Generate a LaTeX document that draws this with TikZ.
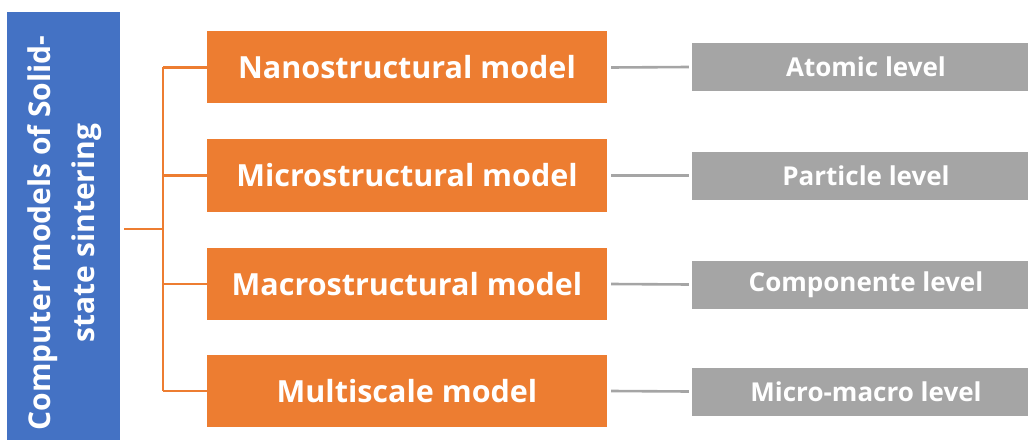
\documentclass[tikz,border=0pt]{standalone}
\usepackage{fontspec}
\setmainfont{Open Sans}
\usepackage{tikz}
\usetikzlibrary{positioning, calc}

\definecolor{modelorange}{HTML}{ED7D31}
\definecolor{rootblue}{HTML}{4472C4}
\definecolor{levelgray}{HTML}{A5A5A5}

\begin{document}
\begin{tikzpicture}[x=1pt, y=1pt,
    rootbox/.style={fill=rootblue, minimum width=113pt, minimum height=428pt, inner sep=0pt},
    modelbox/.style={fill=modelorange, text=white, minimum width=400pt, minimum height=72pt, inner sep=0pt,
      font=\fontsize{30.5}{36}\selectfont\bfseries},
    levelbox/.style={fill=levelgray, text=white, minimum width=348pt, minimum height=48pt, inner sep=0pt,
      font=\fontsize{26}{30}\selectfont\bfseries},
    oline/.style={draw=modelorange, line width=2.6pt},
    gline/.style={draw=levelgray, line width=2.6pt}]
      \useasboundingbox (0, 0) rectangle (1028, 440);

      \node[rootbox] (root) at (63.5, 214) {};
      \node[rotate=90, text=white, align=center, font=\fontsize{30}{44}\selectfont\bfseries]
        (roottext) at (65, 207) {Computer models of Solid-\\state sintering};

      \node[modelbox] (nano) at (407, 372.5) {Nanostructural model};
      \node[modelbox] (micro) at (407, 264.5) {Microstructural model};
      \node[modelbox] (macro) at (407, 156) {Macrostructural model};
      \node[modelbox] (multi) at (407, 49) {Multiscale model};

      \node[levelbox] (atomic) at (866, 373) {Atomic level};
      \node[levelbox] (particle) at (866, 264.5) {Particle level};
      \node[levelbox] (compo) at (866, 155.5) {Componente level};
      \node[levelbox] (micmac) at (866, 48.5) {Micro-macro level};

      % tree from the root to the models
      \coordinate (fork) at (163, 211);
      \draw[oline] ([xshift=4pt]root.east |- fork) -- (fork);
      \draw[oline] (fork |- nano.west) -- (fork |- multi.west);
      \foreach \m in {nano, micro, macro, multi}
        \draw[oline] (fork |- \m.west) -- (\m.west);

      % models to levels
      \draw[gline] ([xshift=4pt]nano.east) -- ([xshift=-3pt]atomic.west);
      \draw[gline] ([xshift=4pt]micro.east) -- ([xshift=-3pt]particle.west);
      \draw[gline] ([xshift=4pt]macro.east) -- ([xshift=-3pt]compo.west);
      \draw[gline] ([xshift=4pt]multi.east) -- ([xshift=-3pt]micmac.west);
\end{tikzpicture}
\end{document}
